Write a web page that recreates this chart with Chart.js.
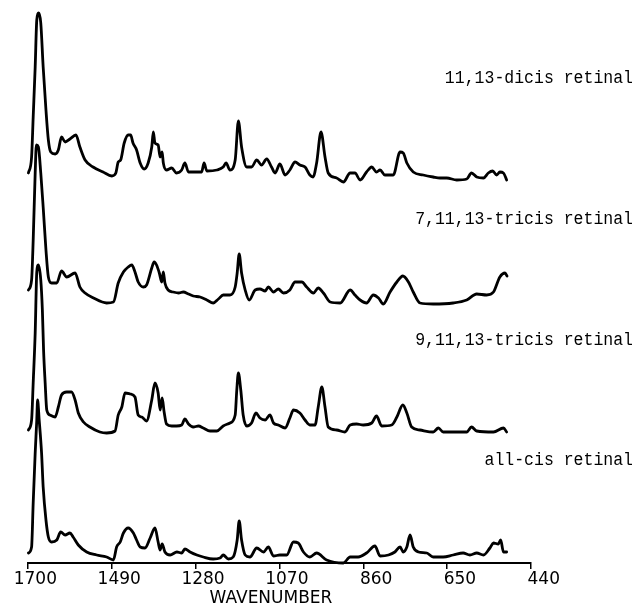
<!DOCTYPE html>
<html>
<head>
<meta charset="utf-8">
<script src="https://cdn.jsdelivr.net/npm/chart.js@4.4.1/dist/chart.umd.min.js"></script>
<style>
  html, body { margin: 0; padding: 0; background: #fff; }
  #wrap { width: 635px; height: 604px; position: relative; }
</style>
</head>
<body>
<div id="wrap"><canvas id="spectra"></canvas></div>
<script>
// Raman spectra of four cis retinal isomers
// x = wavenumber (cm-1), y = intensity above each trace's own baseline

const wavenumberTicks = [1700, 1490, 1280, 1070, 860, 650, 440];
const axisTitle = 'WAVENUMBER';
const traceLabels = ['11,13-dicis retinal', '7,11,13-tricis retinal', '9,11,13-tricis retinal', 'all-cis retinal'];

// 11,13-dicis
const dicisWn = [1699,1691,1687,1682,1678,1673,1668,1662,1655,1649,
  1643,1632,1624,1616,1607,1595,1580,1570,1557,1537,
  1512,1490,1480,1474,1468,1459,1449,1443,1437,1428,
  1419,1409,1399,1390,1386,1382,1374,1369,1364,1361,
  1353,1340,1328,1315,1307,1298,1277,1265,1259,1252,
  1227,1211,1204,1194,1181,1173,1165,1152,1140,1127,
  1115,1102,1090,1081,1069,1056,1044,1031,1019,1006,
  994,986,977,966,956,948,927,910,893,881,
  868,852,839,827,818,806,785,768,760,751,
  735,710,685,668,651,626,601,589,576,559,
  547,536,526,518,509,501];
const dicisInt = [10,26,66,116,163,170,160,116,73,43,
  31,29,33,46,41,44,48,36,23,16,
  11,7,10,21,23,40,48,48,40,33,
  20,14,20,36,51,40,38,26,31,20,
  13,15,10,13,20,11,11,11,20,12,
  13,16,20,13,23,62,36,16,16,23,
  18,24,16,10,19,8,13,21,18,16,
  8,6,20,51,26,10,5,1,10,10,
  3,11,16,11,13,8,8,31,30,20,
  11,8,6,5,5,3,4,10,6,5,
  10,12,8,11,10,3];

// 7,11,13-tricis
const tricis7Wn = [1699,1691,1687,1682,1679,1674,1668,1662,1655,1649,
  1641,1628,1616,1603,1582,1570,1557,1536,1503,1486,
  1474,1461,1449,1440,1432,1424,1411,1403,1390,1384,
  1378,1371,1365,1361,1357,1349,1336,1323,1311,1298,
  1286,1269,1252,1236,1223,1211,1194,1181,1176,1171,
  1165,1156,1146,1131,1119,1106,1098,1085,1073,1060,
  1044,1031,1014,1002,985,973,960,943,918,893,
  881,868,852,835,822,810,793,776,761,747,
  735,718,685,635,601,576,551,534,518,505,
  500];
const tricis7Int = [15,25,65,132,160,158,132,98,55,28,
  22,22,34,28,32,18,12,7,2,3,
  22,33,38,40,33,23,18,20,37,43,
  40,32,23,33,22,15,13,12,13,11,
  9,8,5,2,6,10,10,18,32,51,
  32,15,5,15,16,14,18,13,16,12,
  15,23,23,18,12,17,12,3,2,15,
  10,5,2,10,7,1,13,23,29,23,
  13,2,1,2,5,11,10,13,28,32,
  29];

// 9,11,13-tricis
const tricis9Wn = [1699,1691,1687,1682,1678,1674,1668,1664,1661,1657,
  1653,1645,1632,1624,1616,1603,1591,1582,1574,1561,
  1545,1520,1503,1482,1474,1465,1457,1444,1432,1424,
  1415,1403,1390,1382,1374,1369,1364,1359,1353,1340,
  1328,1315,1307,1298,1286,1273,1261,1244,1227,1211,
  1194,1181,1177,1173,1167,1161,1152,1140,1129,1119,
  1106,1094,1085,1073,1056,1044,1035,1019,1006,994,
  981,973,964,956,948,927,906,893,877,860,
  839,827,814,789,776,761,751,739,718,685,
  672,660,618,601,589,576,534,509,501];
const tricis9Int = [4,14,51,101,162,169,154,124,84,51,
  24,19,17,27,39,42,42,34,21,12,
  7,2,1,3,19,27,41,40,37,19,
  17,13,34,51,41,24,36,22,10,8,
  8,9,15,10,7,8,6,3,3,8,
  11,19,44,61,44,19,8,11,21,16,
  14,19,11,9,6,16,24,21,14,9,
  9,27,47,27,7,4,2,9,10,9,
  11,18,8,9,17,29,21,7,4,2,
  6,2,2,2,7,3,2,6,2];

// all-cis
const allcisWn = [1699,1691,1687,1682,1678,1676,1672,1666,1662,1655,
  1649,1641,1628,1618,1607,1595,1587,1574,1553,1528,
  1503,1486,1478,1469,1461,1449,1436,1428,1419,1407,
  1394,1382,1374,1369,1364,1357,1344,1327,1315,1307,
  1294,1277,1261,1236,1219,1211,1198,1186,1176,1171,
  1165,1156,1144,1127,1110,1098,1085,1069,1052,1035,
  1023,1010,994,977,952,910,893,873,852,831,
  818,797,781,768,760,751,743,735,722,701,
  685,660,635,610,593,576,559,543,534,522,
  516,509,501];
const allcisInt = [10,16,60,110,143,163,143,110,76,43,
  26,21,23,31,28,30,26,18,11,8,
  6,3,16,21,30,35,30,23,16,15,
  25,35,21,13,19,11,8,11,10,14,
  11,8,6,4,5,8,4,6,23,42,
  23,8,6,15,11,16,7,8,8,21,
  20,11,6,10,3,0,6,6,10,17,
  7,8,11,16,11,16,28,16,11,10,
  6,6,8,10,8,10,8,15,20,19,
  23,11,11];

// vertical offset of each trace on the shared y scale
const traceOffsets = [380, 258, 129, 0];
// y-scale level of each right-hand label's baseline
const labelLevels = [480, 339, 218, 98];

const traces = [
  [dicisWn, dicisInt],
  [tricis7Wn, tricis7Int],
  [tricis9Wn, tricis9Int],
  [allcisWn, allcisInt]
];

const datasets = traces.map(([wn, inten], i) => ({
  label: traceLabels[i],
  data: wn.map((w, j) => ({ x: w, y: inten[j] + traceOffsets[i] })),
  borderColor: '#000',
  borderWidth: 2.8,
  borderJoinStyle: 'round',
  borderCapStyle: 'round',
  pointRadius: 0,
  fill: false,
  cubicInterpolationMode: 'monotone',
  clip: false
}));

// Draws tick labels, axis title and the trace names
const overlayText = {
  id: 'overlayText',
  afterDraw(chart) {
    const ctx = chart.ctx;
    const xs = chart.scales.x;
    const ys = chart.scales.y;
    ctx.save();
    ctx.fillStyle = '#000';

    ctx.font = '17px "DejaVu Sans"';
    ctx.textAlign = 'right';
    ctx.textBaseline = 'alphabetic';
    wavenumberTicks.forEach(v => {
      ctx.fillText(String(v), xs.getPixelForValue(v) + 29, 584);
    });

    ctx.textAlign = 'center';
    ctx.fillText(axisTitle, 271, 603);

    ctx.font = '16.5px "Liberation Mono"';
    ctx.textAlign = 'right';
    traceLabels.forEach((t, i) => {
      ctx.save();
      ctx.translate(633, ys.getPixelForValue(labelLevels[i]));
      ctx.scale(1, 1.15);
      ctx.fillText(t, 0, 0);
      ctx.restore();
    });
    ctx.restore();
  }
};

new Chart(document.getElementById('spectra'), {
  type: 'line',
  data: { datasets },
  options: {
    responsive: true,
    maintainAspectRatio: false,
    animation: false,
    layout: { padding: { left: 28, right: 104, top: 5, bottom: 35 } },
    plugins: { legend: { display: false }, tooltip: { enabled: false } },
    scales: {
      x: {
        type: 'linear',
        reverse: true,
        min: 440,
        max: 1700,
        afterBuildTicks: scale => {
          scale.ticks = wavenumberTicks.map(v => ({ value: v }));
        },
        grid: { drawOnChartArea: false, drawTicks: true, tickLength: 6, color: '#000', lineWidth: 1.5 },
        border: { display: true, color: '#000', width: 2 },
        ticks: { display: false }
      },
      y: { display: false, min: 0, max: 558 }
    }
  },
  plugins: [overlayText]
});
</script>
</body>
</html>
